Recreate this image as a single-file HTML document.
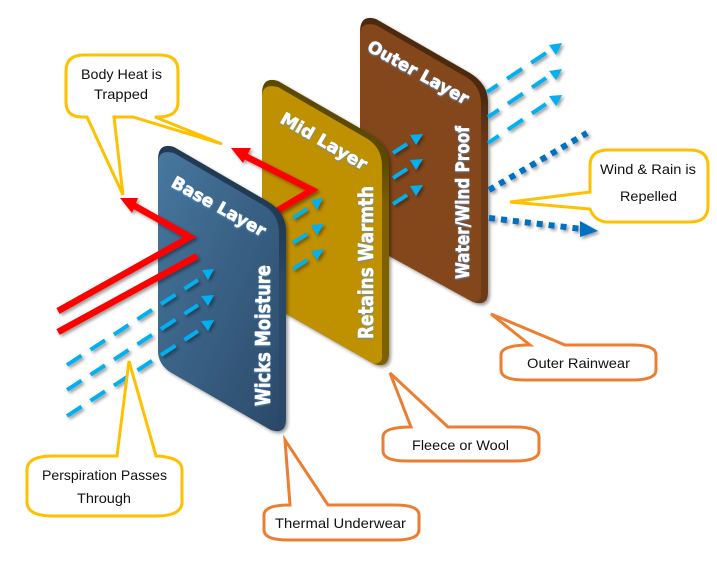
<!DOCTYPE html>
<html><head><meta charset="utf-8">
<style>
html,body{margin:0;padding:0;background:#fff;width:717px;height:566px;overflow:hidden}
svg{display:block}
.c{font-family:"Liberation Sans",sans-serif;font-size:14px;fill:#111}
.p{font-family:"DejaVu Sans",sans-serif;font-weight:bold;fill:#fff;stroke:#fff;stroke-width:.5}
.d{fill:none;stroke:#00b0f0;stroke-width:4}
.h{fill:#00b0f0}
.y{fill:#fff;stroke:#ffc000;stroke-width:3;stroke-linejoin:miter}
.o{fill:#fff;stroke:#ed7d31;stroke-width:3;stroke-linejoin:miter}
</style></head><body>
<svg width="717" height="566" viewBox="0 0 717 566" xmlns="http://www.w3.org/2000/svg">
<defs>
<filter id="s" x="-20%" y="-20%" width="150%" height="150%"><feDropShadow dx="2" dy="2" stdDeviation="1.5" flood-color="#000" flood-opacity=".4"/></filter>
<filter id="g" x="-20%" y="-20%" width="140%" height="140%"><feDropShadow dx="0" dy="1" stdDeviation=".7" flood-color="#4f8fd0" flood-opacity=".9"/></filter>
<linearGradient id="b" x1="0" y1="0" x2="1" y2="1"><stop offset="0" stop-color="#47779f"/><stop offset="1" stop-color="#2b4a69"/></linearGradient>
<linearGradient id="db" x1="0" y1="0" x2="0" y2="1"><stop offset=".28" stop-color="#223b55"/><stop offset=".5" stop-color="#2c4a68"/></linearGradient>
<linearGradient id="dm" x1="0" y1="0" x2="0" y2="1"><stop offset=".28" stop-color="#5b4a00"/><stop offset=".45" stop-color="#7f6000"/></linearGradient>
<linearGradient id="do" x1="0" y1="0" x2="0" y2="1"><stop offset=".28" stop-color="#4e2a10"/><stop offset=".45" stop-color="#6d3b19"/></linearGradient>
</defs>

<!-- Outer panel -->
<g filter="url(#s)">
<path d="M360 32Q360 14 376 19L470 73Q488 84 488 102V292Q488 307 473 302L360 240Z" fill="url(#do)"/>
<path d="M360 35Q360 21 376 25L466 77Q481 86 481 104V295Q481 301 473 302L360 240Z" fill="#84471f"/>
</g>
<g filter="url(#s)">
<path class="d" d="M487 92L546 53" stroke-dasharray="18 11" stroke-dashoffset="5"/><path class="h" d="M549 45L562 43L556 55Z"/>
<path class="d" d="M488 117L546 78" stroke-dasharray="18 11" stroke-dashoffset="5"/><path class="h" d="M549 71L562 69L556 80Z"/>
<path class="d" d="M488 143L546 104" stroke-dasharray="18 11" stroke-dashoffset="5"/><path class="h" d="M549 96L562 95L556 106Z"/>
<path d="M489 190L587 133" fill="none" stroke="#0070c0" stroke-width="6" stroke-dasharray="6 6"/>
<path d="M489 218L582 229" fill="none" stroke="#0070c0" stroke-width="6" stroke-dasharray="6 6"/>
<path d="M598 231L580 221V237Z" fill="#0070c0"/>
<path class="d" d="M393 153L407 144"/><path class="h" d="M410 135L423 134L416 145Z"/>
<path class="d" d="M393 178L407 169"/><path class="h" d="M410 160L423 159L416 170Z"/>
<path class="d" d="M393 204L407 195"/><path class="h" d="M410 186L423 185L416 196Z"/>
</g>
<g class="p" filter="url(#g)">
<text font-size="17" transform="translate(366,50) rotate(29)" textLength="113" lengthAdjust="spacingAndGlyphs">Outer Layer</text>
<text font-size="19" transform="translate(469,279) rotate(-90)" textLength="153" lengthAdjust="spacingAndGlyphs">Water/Wind Proof</text>
</g>

<!-- Mid panel -->
<g filter="url(#s)">
<path d="M262 94Q262 76 278 81L370 134Q389 145 389 164V353Q389 369 374 364L262 300Z" fill="url(#dm)"/>
<path d="M262 97Q262 83 278 87L366 138Q382 147 382 166V357Q382 363 374 364L262 300Z" fill="#bf9000"/>
</g>
<g filter="url(#s)">
<path class="d" d="M293 218L307 209"/><path class="h" d="M311 200L323 198L317 210Z"/>
<path class="d" d="M293 243L307 234"/><path class="h" d="M311 225L324 224L317 235Z"/>
<path class="d" d="M293 269L307 260"/><path class="h" d="M311 251L324 249L317 260Z"/>
<path d="M270 215L312 190L243 155" fill="none" stroke="#f00" stroke-width="6.5" stroke-linejoin="miter"/>
<path d="M231 148L251 148L243 163Z" fill="#f00"/>
</g>
<g class="p" filter="url(#g)">
<text font-size="17" transform="translate(279,122) rotate(30)" textLength="97" lengthAdjust="spacingAndGlyphs">Mid Layer</text>
<text font-size="20" transform="translate(373,339) rotate(-90)" textLength="153" lengthAdjust="spacingAndGlyphs">Retains Warmth</text>
</g>

<!-- Base panel -->
<g filter="url(#s)">
<path d="M158 160Q158 142 174 147L267 201Q286 212 286 231V419Q286 435 271 430L172 373Q158 365 158 350Z" fill="url(#db)"/>
<path d="M158 163Q158 149 174 153L263 205Q279 214 279 233V423Q279 429 271 430L172 373Q158 365 158 350Z" fill="url(#b)"/>
</g>
<g class="p" filter="url(#g)">
<text font-size="17" transform="translate(170,186) rotate(29)" textLength="105" lengthAdjust="spacingAndGlyphs">Base Layer</text>
<text font-size="20" transform="translate(270,406) rotate(-90)" textLength="141" lengthAdjust="spacingAndGlyphs">Wicks Moisture</text>
</g>
<g filter="url(#s)">
<path d="M58 311L190 237L133 205" fill="none" stroke="#f00" stroke-width="6.5" stroke-linejoin="miter"/>
<path d="M120 198L138 198L132 213Z" fill="#f00"/>
<path d="M58 332L197 256" fill="none" stroke="#f00" stroke-width="6.5"/>
<path class="d" d="M67 365L198 280" stroke-dasharray="17.3 10.7"/><path class="h" d="M202 270L214 269L208 280Z"/>
<path class="d" d="M67 390L198 305" stroke-dasharray="17.3 10.7"/><path class="h" d="M201 296L214 295L208 306Z"/>
<path class="d" d="M67 416L198 331" stroke-dasharray="17.3 10.7"/><path class="h" d="M201 321L214 320L208 331Z"/>
</g>

<!-- Callouts -->
<path class="y" d="M84 55H160Q178 55 178 71V102Q178 118 155 117L222 144L133 117H114L123 195L87 117H82Q66 117 66 102V71Q66 55 84 55Z"/>
<path class="y" d="M608 150H690Q708 150 708 166V206Q708 222 690 222H608Q595 222 590 209L510 202L590 192V166Q590 150 608 150Z"/>
<path class="y" d="M117 456L129 361L156 456Q182 457 182 470V502Q182 516 156 516H53Q27 516 27 502V470Q27 456 53 456Z"/>
<path class="o" d="M290 505L285 440L328 505H395Q419 505 419 515V530Q419 540 395 540H288Q264 540 264 530V515Q264 505 290 505Z"/>
<path class="o" d="M411 427L390 373L448 427H515Q539 427 539 437V451Q539 461 515 461H407Q383 461 383 451V437Q383 427 411 427Z"/>
<path class="o" d="M530 345L491 314L565 345H632Q656 345 656 355V370Q656 380 632 380H525Q501 380 501 370V355Q501 345 530 345Z"/>

<g class="c">
<text x="81" y="79" textLength="81" lengthAdjust="spacingAndGlyphs">Body Heat is</text>
<text x="94" y="99" textLength="54" lengthAdjust="spacingAndGlyphs">Trapped</text>
<text x="600" y="174" textLength="96" lengthAdjust="spacingAndGlyphs">Wind &amp; Rain is</text>
<text x="620" y="201" textLength="57" lengthAdjust="spacingAndGlyphs">Repelled</text>
<text x="42" y="480" textLength="125" lengthAdjust="spacingAndGlyphs">Perspiration Passes</text>
<text x="77" y="503" textLength="54" lengthAdjust="spacingAndGlyphs">Through</text>
<text x="275" y="528" textLength="131" lengthAdjust="spacingAndGlyphs">Thermal Underwear</text>
<text x="412" y="450" textLength="97" lengthAdjust="spacingAndGlyphs">Fleece or Wool</text>
<text x="527" y="368" textLength="103" lengthAdjust="spacingAndGlyphs">Outer Rainwear</text>
</g>
</svg>
</body></html>
